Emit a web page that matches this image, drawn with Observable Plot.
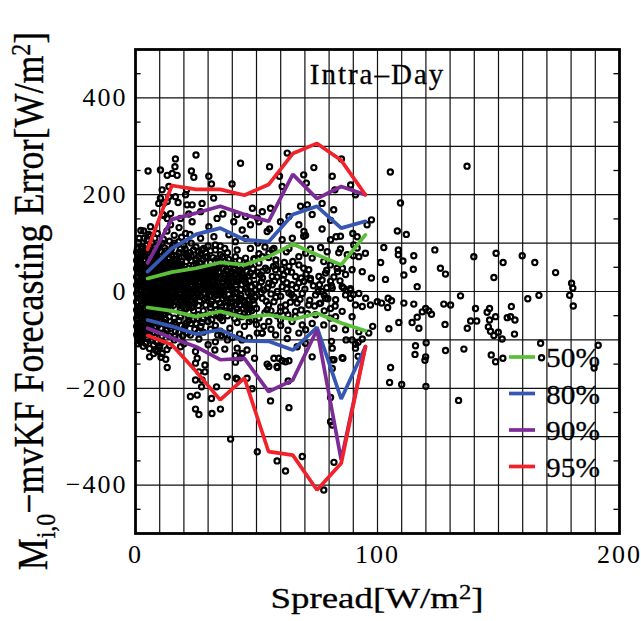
<!DOCTYPE html>
<html><head><meta charset="utf-8">
<script src="https://cdn.jsdelivr.net/npm/d3@7"></script>
<script src="https://cdn.jsdelivr.net/npm/@observablehq/plot@0.6"></script>
<style>body{margin:0;background:#fff;}</style>
</head><body><div id="chart"></div>
<script>
// ---- tick labels / grid ----
const xTickLabels = [0, 100, 200];
const yTickLabels = [-400, -200, 0, 200, 400];
const xGridTicks = [10,20,30,40,50,60,70,80,90,100,110,120,130,140,150,160,170,180,190];
const yGridTicks = [-400,-300,-200,-100,0,100,200,300,400];
const yMinorTicks = [-450,-350,-250,-150,-50,50,150,250,350,450];
const titleText = "Intra–Day";

// ---- quantile lines (spread bin centre -> error) ----
const spreadBins = [5,15,25,35,45,55,65,75,85,95];
const q50Upper = [27,40,48,60,55,72,98,76,55,117];
const q50Lower = [-33,-40,-52,-41,-54,-48,-58,-45,-65,-81];
const q80Upper = [41,89,118,131,107,103,159,176,131,145];
const q80Lower = [-59,-72,-88,-79,-102,-103,-121,-74,-222,-114];
const q90Upper = [59,149,162,176,159,145,242,192,217,200];
const q90Lower = [-76,-96,-114,-141,-138,-207,-183,-79,-348,-114];
const q95Upper = [87,219,211,211,199,221,285,306,271,200];
const q95Lower = [-91,-110,-165,-224,-179,-331,-338,-410,-355,-114];
const seriesNames = ["50%","80%","90%","95%"];
const seriesColors = ["#5cbf3a","#3657b3","#7c2b97","#f2222b"];

// ---- scatter points [spread, error] ----
const scatterCoreA = [[1,78],[3,74],[5,80],[1.5,70],[4,66],[2,61],[5.2,58],[0.8,52],[3.2,50],[5,44],[1.4,42],[3.6,37],[0.9,32],[2.6,28],[4.8,30],[1.6,22],[4,19],[0.7,14],[2.9,10],[5.1,12],[1.8,4],[4.3,1],[0.9,-4],[3,-8],[5.4,-6],[1.7,-14],[4.1,-17],[0.6,-22],[2.8,-26],[5,-24],[1.5,-33],[3.8,-35],[0.9,-41],[2.7,-44],[5.1,-42],[1.8,-51],[4.2,-53],[0.7,-59],[3,-62],[5.3,-60],[1.6,-68],[4,-71],[0.9,-77],[2.9,-80],[5,-79],[1.7,-86],[4.2,-89],[0.8,-94],[3,-98],[2,-104],[4.8,-97],[2.5,88],[4.5,95],[1.2,101],[3.6,110],[5.5,118],[2.2,126],
  [2,83],[4,76],[1,66],[3.5,56],[2,46],[4.5,40],[2,35],[3.7,25],[1.2,18],[4.5,7],[2.2,-1],[4,-12],[1.2,-9],[2.5,-19],[4.5,-30],[2.2,-38],[4,-47],[1.2,-47],[2.5,-55],[4.8,-66],[2.4,-73],[4,-83],[1.2,-82],[2.5,-91],[4.5,-105],[1,-108],[3.2,-113],[0.8,88],[3,92],[5.5,86],[1.5,110],
  [0.5,81],[3.9,82],[2.2,72],[5.6,71],[0.5,64],[3.9,63],[2.2,55],[5.6,54],[0.5,47],[3.9,46],[2.2,38],[5.6,37],[0.5,30],[3.9,31],[2.2,21],[5.6,22],[0.5,13],[3.9,12],[2.2,4],[5.6,5],[0.5,-4],[3.9,-3],[2.2,-12],[5.6,-13],[0.5,-21],[3.9,-20],[2.2,-29],[5.6,-30],[0.5,-38],[3.9,-39],[2.2,-46],[5.6,-47],[0.5,-55],[3.9,-56],[2.2,-63],[5.6,-64],[0.5,-72],[3.9,-73],[2.2,-80],[5.6,-81],[0.5,-89],[3.9,-88],[2.2,-97],[5.6,-90]];
const scatterCoreB = [[7.2,66],[9.8,64],[13.5,67],[16.4,63],[6.4,58],[8.5,56],[10.7,59],[12.6,57],[15,55],[17.2,58],[7.1,50],[9.2,48],[11.4,51],[13.3,49],[15.6,47],[17.8,50],[6.3,42],[8.2,40],[10.3,43],[12.2,41],[14.4,39],[16.5,42],[7,34],[9,32],[11.1,35],[13.2,33],[15.2,31],[17.4,34],[6.2,26],[8.4,24],[10.2,27],[12.4,25],[14.3,23],[16.6,26],[7.3,18],[9.3,16],[11.2,19],[13.1,17],[15.4,15],[17.5,18],[6.5,10],[8.6,8],[10.6,11],[12.5,9],[14.7,7],[16.8,10],[7.1,2],[9.1,0],[11.3,3],[13.3,1],[15.3,-1],[17.3,2],[6.3,-6],[8.3,-8],[10.4,-5],[12.3,-7],[14.5,-9],[16.4,-6],[7.2,-14],[9.2,-16],[11,-13],[13.4,-15],[15.1,-17],[6.4,-22],[8.6,-24],[10.6,-21],[12.4,-23],[14.6,-25],[17,-22],[7,-30],[9.4,-32],[11.3,-29],[13.6,-31],[6.2,-38],[8.2,-40],[10.5,-37],[12.6,-39],[7.3,-46],[9.5,-48],[11.7,-45],[6.5,-54],[8.8,-56],[14,-52],
  [8,62],[11.5,62],[15,61],[7.4,54],[9.6,53],[11.6,55],[14,52],[16.2,54],[6.6,46],[8.3,45],[10.3,47],[12.4,45],[14.5,44],[16.8,46],[7.6,38],[9.5,37],[11.6,39],[13.6,37],[15.8,36],[17.8,38],[6.6,30],[8.5,29],[10.6,31],[12.8,29],[14.7,28],[16.8,30],[7.5,22],[9.4,21],[11.4,23],[13.5,21],[15.6,20],[17.6,22],[6.5,14],[8.4,13],[10.4,15],[12.4,13],[14.5,12],[16.5,14],[7.6,6],[9.7,5],[11.7,7],[13.8,5],[15.8,4],[17.8,6],[6.5,-2],[8.4,-3],[10.4,-1],[12.6,-3],[14.6,-4],[16.6,-2],[7.5,-10],[9.6,-11],[11.6,-9],[13.7,-11],[15.9,-12],[6.6,-18],[8.4,-19],[10.3,-17],[12.3,-19],[14.4,-20],[16.3,-18],[7.5,-26],[9.5,-27],[11.6,-25],[13.7,-27],[15.8,-28],[6.6,-34],[8.4,-35],[10.4,-33],[12.5,-35],[14.5,-36],[7.5,-42],[9.4,-43],[11.2,-41],[6.2,-50],[8.2,-51],[10.3,-49],[7,-60],[9.7,-61]];
const scatterCoreC = [[19,50],[22,48],[26,51],[30,49],[18.5,42],[20.6,40],[23,43],[25,41],[27.5,39],[31,42],[19.5,34],[21.8,32],[24,35],[26.2,33],[28.8,31],[32,34],[18.6,26],[20.8,24],[23.2,27],[25.3,25],[27.8,23],[30.2,26],[19.4,18],[21.6,16],[24.1,19],[26.5,17],[29,15],[18.8,10],[21,8],[23.1,11],[25.6,9],[28,7],[31.4,10],[19.6,2],[22.2,0],[24.4,3],[27,1],[30,-1],[18.4,-6],[20.7,-8],[23,-5],[25.7,-7],[19.3,-14],[21.7,-16],[24.5,-13],[28.5,-15],[18.7,-22],[20.9,-24],[23.5,-21],[19.5,-30],[22,-32],[26,-29],[18.5,-38],[24,-40],
  [20,46],[24.5,47],[28,45],[32,46],[19.5,38],[22,37],[24.6,39],[26.5,37],[29.8,36],[18.6,30],[21,29],[23.2,31],[25.4,29],[27.5,28],[30.8,30],[19.6,22],[22,21],[24.4,23],[26.6,21],[29.2,20],[32,22],[18.6,14],[20.8,13],[23,15],[25.2,13],[27.8,12],[30.6,14],[19.8,6],[22,5],[24.4,7],[26.8,5],[29.4,4],[18.6,-2],[21,-3],[23.4,-1],[25.8,-3],[28.6,-4],[19.6,-10],[22,-11],[24.5,-9],[26.9,-11],[18.6,-18],[21,-19],[23.4,-17],[26.5,-19],[19.8,-26],[22,-27],[24.4,-25],[18.6,-34],[21,-35],[23.2,-33],
  [29,44],[31.5,38],[33.5,46],[29.5,28],[32,18],[30.5,5],[32.5,-5],[29.5,-12],[31.5,-20],[29,-28],[33,-28],[35,28],[37,10],[39.5,-14],[41,36],[43.5,4],[45.5,18],[47,-16],[42.5,-20],[38,42],[36,-2],[40.5,28],[44,38],[46.5,-44],
  [6,92],[8.5,80],[10.5,72],[12,90],[14.5,82],[17,74],[18.5,88],[21,76],[23,64],[26,72],[29,80],[32,70],[34.5,62],[6.8,100],[9.5,96],[16,100],
  [6,-66],[8,-72],[10.5,-58],[13,-70],[16,-64],[19,-70],[22,-60],[25,-66],[5.8,-88],[7,-100],[14,-92],[18,-95]];
const scatterBand = [[5.5,64],[7,57],[9,70],[11,66],[13,60],[15,76],[17,66],[19,56],[21,62],[23,74],[25,66],[27,58],[29,70],[31,52],[33,64],[35,56],[7.5,84],[10,92],[12.5,84],[15.5,96],[18,80],[20.5,88],[22.5,80],[25,92],[27.5,86],[30,94],[33,86],[36,72],[38.5,66],[8,76],[14,56],[24,54],[28,52],[18,70],[26,82],[11.5,108],[14,104],[9,120],[19,112],[22.5,118],
  [6.5,-70],[8.5,-64],[10.5,-76],[12.5,-58],[14.5,-76],[16.5,-68],[18.5,-52],[20.5,-72],[23,-66],[25.5,-56],[27.5,-64],[29.5,-50],[31.5,-58],[33.5,-46],[12,-86],[16.5,-82],[21.5,-86],[24.5,-78],[7.5,-110],[10,-112],[5.8,-118],[8.6,-104],[16,-100],[19.5,-92],[26,-84],
  [30.5,36],[32.5,28],[34.2,20],[36.2,26],[37.8,14],[39.8,6],[41.8,20],[43.8,30],[45.8,10],[47.8,-2],[49.5,-12],[31,-8],[33,12],[35.2,-4],[37.2,-22],[39.2,-30],[41.2,-4],[43.2,-14],[45.2,-28],[47.2,-36],[31,-26],[33.5,-38],[36.5,-44],[40.5,-40],[44.5,-36],[30.5,16],[34,-50],[38.5,32],[42.5,42],[46.5,32],
  [50.5,40],[52.5,28],[54.5,44],[56.5,14],[58.5,30],[60.5,46],[62.5,18],[64.5,-6],[66.5,8],[68.5,28],[70.5,36],[52,-2],[54,-20],[56,-40],[58,-12],[60,-32],[62,-40],[64,-22],[66,-52],[68,-16],[51,10],[53.5,-44],[57,52],[61.5,60],[65,62],[71,-46],[74,-30],[76,14],[78,-8]];
const scatterCoreD = [[33.5,55],[36,48],[38.5,57],[41,50],[43.5,44],[46,54],[48.5,47],[34.5,40],[37,33],[39.5,41],[42,35],[45,30],[47.5,38],[33.2,25],[35.8,18],[38,27],[40.5,20],[44,14],[47,22],[49.5,15],[34,8],[36.5,2],[39,10],[42,-2],[45.5,5],[48,-4],[33.5,-8],[36,-15],[38.5,-6],[41,-12],[44.5,-18],[47.5,-10],[34.8,-24],[37.5,-30],[40,-22],[43,-28],[46,-34],[49,-26],[35,-38],[39,-42],[42,-36],[45,-45],[48,-40],
  [34.5,50],[37.5,44],[40.5,46],[44.5,50],[47.5,56],[33.5,33],[36.5,38],[39.5,30],[42.5,26],[46,42],[49,33],[35,12],[38,20],[41.5,14],[44.5,24],[48,10],[33.5,0],[36.5,-8],[40,4],[43.5,-8],[46.5,-2],[49.5,3],[34,-16],[38,-18],[41.5,-26],[45,-22],[48.5,-18],[35.5,-32],[39,-34],[43,-42],[46.5,-30],[50,-35],[52,20],[54.5,8],[57.5,22],[60,-10],[62.5,5],[65.5,-12],[56,-5],[52.5,42],[58,55],[61,25],[64.5,40],[67.5,18],[70,5],[73.5,12],[58.5,-50],[63,-48],[55,-28],[68.5,-38],[72,-18],[75.5,0],[79,8],
  [32,-48],[35,-55],[38,-50],[41,-56],[44,-52],[47,-62],[50,-68],[53,-72],[56,-78],[60,-70],[63,-80],[31,-78],[34,-90],[37,-88],[40,-95],[44,-100],[26,-48],[28,-56],[22,-52],[16,-55],[20,-44],[28,-40],[31,-33]];
const scatterMid = [[51,59],[53.7,48],[57.9,45],[63.4,52],[67.5,55],[71.6,45],[75.8,31],[78.5,38],[83.3,48],[89.5,45],[93.7,41],[97.5,28],[72.3,24],[77.1,24],[81.3,7],[85.4,10],[88.9,3],[92.3,-4],[95.1,-14],[97.1,-28],[55.1,17],[60.6,10],[64.7,14],[68.9,-4],[74.4,-7],[78.5,-14],[82.7,-17],[86.8,-7],[90.9,-28],[93.7,-31],[52.4,-14],[57.2,-21],[62,-28],[66.8,-24],[71.6,-28],[76.5,-24],[80.6,-35],[85.4,-41],[89.5,-52],[51,-55],[55.1,-62],[59.9,-59],[64.7,-62],[68.9,-69],[73,-66],[77.8,-69],[82,-76],[86.8,-79],[92.3,-83],[96.4,-86],[50.3,-86],[52.4,-86],[57.9,-90],[67.5,-86],[70.3,-79],[89.5,-100],[90.9,-109],[93.7,-98],[59.2,-138],[60.6,-143],[63.4,-143],[55.1,-155],[58.6,-157],[73,-135],[81.3,-117],[85.7,-138],[81.3,-159],[90.9,-117],[51.7,34],[56.5,31],[61.3,34],[66.1,31],[69.6,21],[53,3],[58.6,0],[63.4,-3],[66.1,-41],[59.9,-41],[54.4,-38],[74.4,-48],[82.7,-52],[84,80],[90,74],[85.5,48],[83.5,41],[86.8,35],[88.8,6],[90,-6],[80.5,55],[82,30],[84.5,22],[81,12],[79,44],[77,0],[79.5,-15],[82.5,-30],[78,-40],[80.5,-55],[76,-25],[50.5,100],[53.5,92],[56.5,86],[51,78],[55,70],[58,65],[49,68],[60.6,107],[69.5,114],[73,69],[77.8,62],[69.5,48],[62.7,41],[72.3,27],[80.6,21],[86,7],[88.8,-14]];
const scatterUpper = [[5.2,249],[10.3,251],[16.5,274],[16.3,258],[15.2,244],[13.1,240],[17.2,240],[25,282],[23.1,249],[24.1,236],[30.3,238],[31.4,222],[43.4,265],[39.9,222],[13.8,217],[11,210],[10.3,193],[9.6,182],[13.1,186],[13.8,196],[7.6,162],[16.5,196],[17.6,184],[20.7,200],[21.3,179],[23.4,179],[27.5,182],[3.4,125],[4.8,107],[6.2,134],[11.7,157],[13.1,151],[14.5,138],[18.6,151],[22,160],[23.4,144],[26.9,165],[30.3,134],[33.7,151],[36.1,160],[40.6,144],[45.5,155],[47.5,138],[44.1,127],[38.6,117],[32.4,113],[26.9,110],[20.7,120],[17.9,103],[28.2,89],[33,96],[36.9,89],[41.3,103],[45.5,110],[47.5,89],[29.6,72],[35.1,76],[41.3,72],[45.5,69],[32.3,193],[48.3,172],[54.4,124],[70.6,224],[73,159],[64.8,110],[42,159],[52.4,165],[6.2,114],[11.2,159],[14.5,161],[21.1,210],[11.7,183],[50.3,152],[55.8,172],[69.5,241],[62.7,286],[55.4,258],[59.5,238],[60.6,217],[73.7,256],[81.3,238],[85.1,274],[82.4,210],[88.9,220],[77.1,182],[51,144],[55.4,129],[59.9,144],[63.4,155],[67.5,138],[69.6,124],[70.3,116],[68.2,176],[71,179],[77.1,129],[80.6,147],[82.9,113],[89.8,120],[91.6,113],[95.7,138],[97.5,148],[62.3,82],[63.4,89],[72.3,88],[76.5,91],[79.2,82],[84.7,88],[90.2,96],[67.5,72],[70.3,79],[52.4,72],[55.1,79],[57.2,89],[92.3,72],[90.9,200],[81.9,169],[95,79],[80.6,107],[84.7,114],[87.5,76],[91.6,90],[19,62],[22,70],[25,58],[28,66],[31,60],[34,68],[37,62],[40,58],[43,64],[46,58],[49,66],[20,80],[24,86],[27,78],[31,84],[35,94],[38,80],[42,86],[20,95],[15,90],[12,78],[9,88],[7,72],[14,70],[11,100],[8,110],[16,116],[13,125],[23,100],[18,132]];
const scatterLower = [[5.8,-135],[13.1,-157],[17.9,-84],[16.3,-93],[22.7,-90],[26.2,-98],[24.8,-124],[25.5,-138],[28.7,-166],[33,-104],[35.5,-91],[32.8,-121],[36.9,-119],[41.3,-132],[44.1,-128],[41.3,-146],[37.9,-176],[27.5,-183],[11,-104],[9.9,-116],[8.3,-121],[4.1,-107],[18.6,-114],[24.8,-148],[26.2,-166],[28.7,-152],[22.7,-217],[24.8,-243],[26.2,-254],[31.6,-252],[35.1,-243],[33.5,-197],[39.3,-305],[50.3,-331],[55.8,-226],[58.5,-155],[62,-145],[58.5,-350],[62,-371],[63.4,-240],[68.9,-341],[54.4,-150],[42,-181],[43.4,-137],[24.8,-183],[27.3,-197],[25.5,-214],[31.4,-221],[41.6,-179],[46.1,-179],[48.2,-201],[63.1,-185],[82,-353],[80.6,-219],[81.3,-276],[80.6,-269],[77.8,-410],[81.3,-141],[85.4,-137],[42,-117],[46.1,-121],[49.2,-138],[57.2,-138],[52.3,-86],[62.7,-97],[66.8,-114],[70.2,-107],[7,-62],[9.5,-68],[12,-64],[15,-70],[18,-60],[21,-66],[24,-58],[27,-72],[30,-62],[33,-70],[36,-60],[39,-76],[42,-64],[45,-72],[48,-58],[6.5,-78],[9,-85],[13,-80],[20,-78],[28,-84],[35,-82],[43,-88],[47,-96],[8,-95],[11,-92],[30,-110],[38,-100],[20,-108],[14,-112],[9,-124],[11,-128],[13,-120],[10.5,-136],[12.5,-140],[7.5,-128],[98,-72],[81,-103],[87,-100],[92,-105],[82,-141],[92,-134]];
const scatterRight = [[109.5,183],[105.3,247],[137,259],[108.2,125],[111.9,118],[102.6,91],[108.6,86],[108.6,76],[110.5,63],[115,74],[123.7,86],[101.3,60],[114.8,46],[110.9,34],[103.3,25],[126,48],[128.1,36],[116.4,10],[139.8,72],[149,79],[151.9,60],[159.8,74],[165,60],[173.6,39],[148.1,29],[180.2,17],[180.7,7],[179.4,-8],[180.9,-30],[166.7,-8],[162.1,-15],[134.3,-9],[99.9,-21],[101.7,-24],[104.4,-14],[105.8,-19],[104.2,-33],[110.9,-24],[115,-26],[127.4,-26],[130.2,-28],[140.5,-35],[119.9,-35],[121.2,-40],[118.5,-42],[122.3,-47],[116.4,-53],[114.3,-64],[108.8,-64],[117.1,-76],[104.7,-77],[127.9,-68],[138.5,-61],[141,-61],[137.1,-76],[146.3,-35],[145.3,-43],[148.8,-52],[146.3,-59],[145.8,-73],[146.7,-82],[148.1,-91],[149.9,-84],[151.5,-98],[155.3,-31],[153.6,-54],[155,-52],[156.8,-59],[156.6,-88],[167.4,-107],[115.7,-112],[120.1,-106],[115.5,-130],[119.9,-135],[119.6,-142],[128.1,-122],[135.7,-119],[147,-131],[148.8,-145],[151.8,-138],[105.4,-157],[167.8,-137],[191.2,-111],[189.5,-158],[105,-188],[110,-192],[120,-196],[133.5,-225]];

const scatter = [].concat(scatterCoreA, scatterCoreB, scatterCoreC, scatterBand, scatterCoreD, scatterMid, scatterUpper, scatterLower, scatterRight);

const seriesUpper = [q50Upper, q80Upper, q90Upper, q95Upper];
const seriesLower = [q50Lower, q80Lower, q90Lower, q95Lower];
const lineRows = [];
seriesNames.forEach((name, k) => {
  [["upper", seriesUpper[k]], ["lower", seriesLower[k]]].forEach(([side, vals]) => {
    spreadBins.forEach((x, i) => lineRows.push({x, y: vals[i], name, key: name + side}));
  });
});

const serif = "'Liberation Serif', 'Times New Roman', serif";
const plot = Plot.plot({
  width: 641, height: 621,
  marginLeft: 135, marginRight: 22, marginTop: 49, marginBottom: 88,
  style: {fontFamily: serif, fontSize: "26px", color: "black", background: "white", letterSpacing: "2px"},
  x: {domain: [0, 200]},
  y: {domain: [-500, 500]},
  color: {domain: seriesNames, range: seriesColors},
  marks: [
    Plot.gridX(xGridTicks, {stroke: "#111", strokeOpacity: 1, strokeWidth: 1.2}),
    Plot.gridY(yGridTicks, {stroke: "#111", strokeOpacity: 1, strokeWidth: 1.2}),
    Plot.ruleY(yMinorTicks, {x1: 0, x2: 2.3, stroke: "black", strokeWidth: 1.3}),
    Plot.ruleY(yMinorTicks, {x1: 197.7, x2: 200, stroke: "black", strokeWidth: 1.3}),
    Plot.dot(scatter, {x: d => d[0], y: d => d[1], r: 2.6, stroke: "black", strokeWidth: 2.2, fill: "none"}),
    Plot.line(lineRows, {x: "x", y: "y", z: "key", stroke: "name", strokeWidth: 3.7, strokeLinejoin: "miter"}),
    Plot.frame({stroke: "black", strokeWidth: 2.8}),
    Plot.axisX(xTickLabels, {tickSize: 0, tickPadding: 11, label: null, fontSize: 26, fill: "black", stroke: "black", strokeWidth: 0.3}),
    Plot.axisY(yTickLabels, {tickSize: 0, tickPadding: 8, label: null, fontSize: 26, fill: "black", stroke: "black", strokeWidth: 0.3}),
    Plot.text([titleText], {text: d => d, frameAnchor: "top", lineAnchor: "top", dy: 14, fontSize: 29, fill: "black", stroke: "black", strokeWidth: 0.3})
  ]
});
document.getElementById("chart").appendChild(plot);

const svg = d3.select(plot);
// x axis label
const xl = svg.append("text").attr("transform", "translate(377,608) scale(1.23,1)").attr("text-anchor", "middle")
  .attr("font-family", serif).attr("font-size", 30).attr("letter-spacing", 0).attr("fill", "black").attr("stroke", "black").attr("stroke-width", 0.3);
xl.append("tspan").text("Spread[W/m");
xl.append("tspan").attr("dy", "-0.45em").attr("font-size", 20).text("2");
xl.append("tspan").attr("dy", "0.3em").attr("font-size", 30).text("]");
// y axis label
const yl = svg.append("text").attr("transform", "translate(47,301) rotate(-90) scale(1,1.15)").attr("text-anchor", "middle")
  .attr("font-family", serif).attr("font-size", 36).attr("letter-spacing", 0).attr("fill", "black").attr("stroke", "black").attr("stroke-width", 0.3);
yl.append("tspan").text("M");
yl.append("tspan").attr("dy", "0.3em").attr("font-size", 24).text("i,0");
yl.append("tspan").attr("dy", "-0.3em").attr("font-size", 36).text("−mvKF Forecasting Error[W/m");
yl.append("tspan").attr("dy", "-0.45em").attr("font-size", 24).text("2");
yl.append("tspan").attr("dy", "0.3em").attr("font-size", 36).text("]");
// legend
const lg = svg.append("g");
seriesNames.forEach((name, i) => {
  const yy = 357 + i * 36.5;
  lg.append("line").attr("x1", 509).attr("x2", 535).attr("y1", yy).attr("y2", yy)
    .attr("stroke", seriesColors[i]).attr("stroke-width", 3.7);
  lg.append("text").attr("transform", `translate(546,${yy + 10}) scale(1.05,1)`).attr("text-anchor", "start").attr("font-family", serif)
    .attr("font-size", 28).attr("letter-spacing", 0).attr("fill", "black").attr("stroke", "black").attr("stroke-width", 0.3).text(name);
});
</script>
</body></html>
